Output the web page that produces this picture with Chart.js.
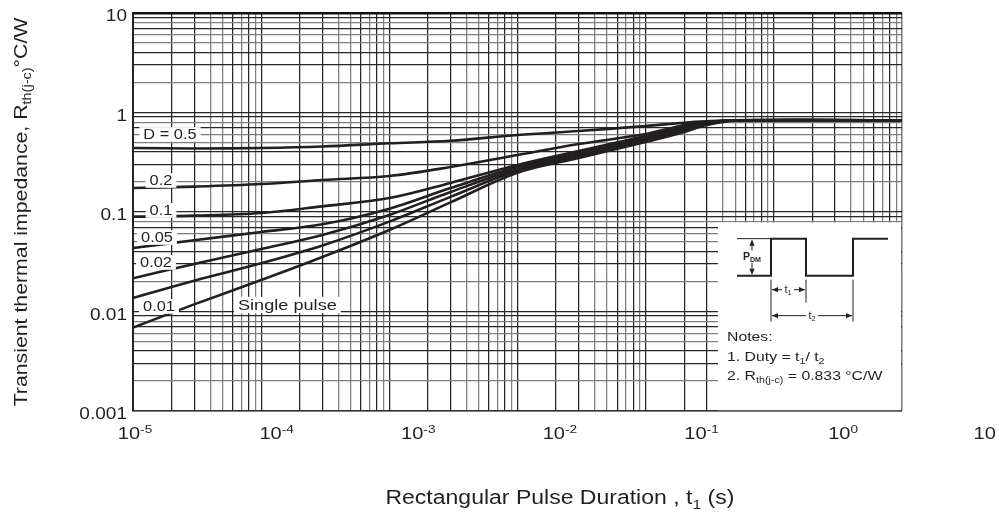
<!DOCTYPE html>
<html>
<head>
<meta charset="utf-8">
<script src="https://cdn.jsdelivr.net/npm/chart.js@4.4.1/dist/chart.umd.min.js"></script>
<style>
  html, body { margin: 0; padding: 0; background: #fff; }
  #wrap { width: 999px; height: 513px; }
</style>
</head>
<body>
<div id="wrap"><canvas id="c" width="999" height="513"></canvas></div>
<script>
// pulse duration t1 (s) where the curves were read
const tPulse = [1e-5, 3e-5, 1e-4, 3e-4, 1e-3, 3e-3, 1e-2, 3e-2, 0.1, 0.2, 0.3, 0.5, 10];
// transient thermal impedance (°C/W) per duty cycle
const zD05    = [0.44, 0.435, 0.44, 0.455, 0.49, 0.52, 0.594, 0.652, 0.731, 0.79, 0.815, 0.833, 0.833];
const zD02    = [0.174, 0.18, 0.191, 0.21, 0.23, 0.283, 0.374, 0.482, 0.608, 0.749, 0.80, 0.833, 0.833];
const zD01    = [0.0898, 0.092, 0.0977, 0.114, 0.138, 0.196, 0.297, 0.41, 0.581, 0.715, 0.79, 0.833, 0.833];
const zD005   = [0.0435, 0.052, 0.063, 0.0752, 0.108, 0.174, 0.283, 0.392, 0.561, 0.69, 0.78, 0.833, 0.833];
const zD002   = [0.0216, 0.030, 0.0425, 0.0588, 0.0935, 0.159, 0.270, 0.374, 0.542, 0.667, 0.77, 0.833, 0.833];
const zD001   = [0.0137, 0.0204, 0.0305, 0.046, 0.080, 0.142, 0.261, 0.366, 0.529, 0.65, 0.76, 0.833, 0.833];
const zSingle = [0.0069, 0.0118, 0.0207, 0.0353, 0.066, 0.125, 0.248, 0.349, 0.505, 0.637, 0.75, 0.828, 0.833];
const seriesNames = ['D = 0.5', '0.2', '0.1', '0.05', '0.02', '0.01', 'Single pulse'];

// axes
const xDecades = [1e-5, 1e-4, 1e-3, 1e-2, 1e-1, 1];
const yDecades = [0.001, 0.01, 0.1, 1];
const mantissas = [1, 2, 3, 4, 5, 6, 7, 8, 9];
const xTickExp = ['-5', '-4', '-3', '-2', '-1', '0', ''];
const yTickValues = [10, 1, 0.1, 0.01, 0.001];
const yTickLabels = ['10', '1', '0.1', '0.01', '0.001'];

const INK = '#231f20';
const FONT = '"Liberation Sans", Arial, Helvetica, sans-serif';
const STRETCH = 1.17; // the scanned lettering is wider than Arial

function gridTicks(decades, top) {
  const out = [];
  decades.forEach(d => mantissas.forEach(m => out.push({ value: m * d })));
  out.push({ value: top });
  return out;
}
function mant(v) {
  return Math.round(v / Math.pow(10, Math.floor(Math.log10(v) + 1e-9)));
}

// text with sub/superscripts: parts = [[text, 'n'|'sub'|'sup'], ...]
function richWidth(ctx, parts, size, bold) {
  let w = 0;
  parts.forEach(([t, k]) => {
    ctx.font = (bold ? 'bold ' : '') + (k === 'n' ? size : size * 0.68) + 'px ' + FONT;
    w += ctx.measureText(t).width;
  });
  return w;
}
function drawRich(ctx, parts, x, y, size, align, stretch, bold) {
  stretch = stretch || STRETCH;
  const w = richWidth(ctx, parts, size, bold) * stretch;
  const x0 = align === 'center' ? x - w / 2 : align === 'right' ? x - w : x;
  ctx.save();
  ctx.translate(x0, y);
  ctx.scale(stretch, 1);
  ctx.textAlign = 'left';
  ctx.textBaseline = 'alphabetic';
  ctx.fillStyle = INK;
  let cx = 0;
  parts.forEach(([t, k]) => {
    const s = k === 'n' ? size : size * 0.68;
    ctx.font = (bold ? 'bold ' : '') + s + 'px ' + FONT;
    const dy = k === 'sub' ? size * 0.24 : k === 'sup' ? -size * 0.36 : 0;
    ctx.fillText(t, cx, dy);
    cx += ctx.measureText(t).width;
  });
  ctx.restore();
  return w;
}
function labelBox(ctx, parts, x, y, size, align) {
  const w = richWidth(ctx, parts, size) * STRETCH;
  const x0 = align === 'center' ? x - w / 2 : x;
  ctx.fillStyle = '#fff';
  ctx.fillRect(x0 - 4, y - size * 0.85, w + 8, size * 1.05);
  drawRich(ctx, parts, x, y, size, align);
}
function arrowHead(ctx, x, y, dir) {
  const L = 6, H = 2.6;
  ctx.beginPath();
  if (dir === 'l') { ctx.moveTo(x, y); ctx.lineTo(x + L, y - H); ctx.lineTo(x + L, y + H); }
  if (dir === 'r') { ctx.moveTo(x, y); ctx.lineTo(x - L, y - H); ctx.lineTo(x - L, y + H); }
  if (dir === 'u') { ctx.moveTo(x, y); ctx.lineTo(x - H, y + L); ctx.lineTo(x + H, y + L); }
  if (dir === 'd') { ctx.moveTo(x, y); ctx.lineTo(x - H, y - L); ctx.lineTo(x + H, y - L); }
  ctx.closePath();
  ctx.fill();
}

const annotate = {
  id: 'annotate',
  afterDraw(chart) {
    const ctx = chart.ctx;
    const a = chart.chartArea;
    const xs = chart.scales.x, ys = chart.scales.y;

    // inset with the pulse diagram and notes
    const bx = a.left + 585, by = ys.getPixelForValue(0.08);
    ctx.save();
    ctx.fillStyle = '#fff';
    ctx.fillRect(bx, by + 0.8, a.right - bx - 1, a.bottom - by - 1.6);
    ctx.strokeStyle = INK; ctx.fillStyle = INK;
    ctx.lineWidth = 2;
    ctx.beginPath();
    ctx.moveTo(bx + 19, by + 54); ctx.lineTo(bx + 53, by + 54); ctx.lineTo(bx + 53, by + 17);
    ctx.lineTo(bx + 88, by + 17); ctx.lineTo(bx + 88, by + 54); ctx.lineTo(bx + 135, by + 54);
    ctx.lineTo(bx + 135, by + 17); ctx.lineTo(bx + 170, by + 17);
    ctx.stroke();
    ctx.lineWidth = 1;
    ctx.beginPath();
    ctx.moveTo(bx + 19, by + 17); ctx.lineTo(bx + 53, by + 17);
    ctx.moveTo(bx + 34, by + 19); ctx.lineTo(bx + 34, by + 52);
    ctx.moveTo(bx + 53, by + 58); ctx.lineTo(bx + 53, by + 100);
    ctx.moveTo(bx + 88, by + 58); ctx.lineTo(bx + 88, by + 81);
    ctx.moveTo(bx + 135, by + 58); ctx.lineTo(bx + 135, by + 100);
    ctx.moveTo(bx + 54, by + 68); ctx.lineTo(bx + 87, by + 68);
    ctx.moveTo(bx + 54, by + 94); ctx.lineTo(bx + 134, by + 94);
    ctx.stroke();
    arrowHead(ctx, bx + 34, by + 18, 'u');
    arrowHead(ctx, bx + 34, by + 53, 'd');
    arrowHead(ctx, bx + 54, by + 68, 'l');
    arrowHead(ctx, bx + 87, by + 68, 'r');
    arrowHead(ctx, bx + 54, by + 94, 'l');
    arrowHead(ctx, bx + 134, by + 94, 'r');
    ctx.fillStyle = '#fff';
    ctx.fillRect(bx + 23, by + 29, 23, 12);
    ctx.fillRect(bx + 64, by + 63, 12, 10);
    ctx.fillRect(bx + 88, by + 89, 12, 10);
    ctx.restore();
    drawRich(ctx, [['P', 'n'], ['DM', 'sub']], bx + 34, by + 38, 10, 'center', 1.05, true);
    drawRich(ctx, [['t', 'n'], ['1', 'sub']], bx + 70, by + 71, 10, 'center', 1.1);
    drawRich(ctx, [['t', 'n'], ['2', 'sub']], bx + 94, by + 97, 10, 'center', 1.1);
    drawRich(ctx, [['Notes:', 'n']], bx + 9, by + 119, 13.5, 'left');
    drawRich(ctx, [['1. Duty = t', 'n'], ['1', 'sub'], ['/ t', 'n'], ['2', 'sub']], bx + 9, by + 139, 13.5, 'left');
    drawRich(ctx, [['2. R', 'n'], ['th(j-c)', 'sub'], [' = 0.833 \u00B0C/W', 'n']], bx + 9, by + 158, 13.5, 'left');

    // curve labels
    const L = a.left, T = a.top;
    labelBox(ctx, [[seriesNames[0], 'n']], L + 37, T + 126, 14, 'center');
    labelBox(ctx, [[seriesNames[1], 'n']], L + 28, T + 172, 14, 'center');
    labelBox(ctx, [[seriesNames[2], 'n']], L + 28, T + 202, 14, 'center');
    labelBox(ctx, [[seriesNames[3], 'n']], L + 24, T + 229, 14, 'center');
    labelBox(ctx, [[seriesNames[4], 'n']], L + 23, T + 254, 14, 'center');
    labelBox(ctx, [[seriesNames[5], 'n']], L + 26, T + 298, 14, 'center');
    labelBox(ctx, [[seriesNames[6], 'n']], L + 105, T + 297, 15.5, 'left');

    // y tick labels
    yTickValues.forEach((v, i) => {
      drawRich(ctx, [[yTickLabels[i], 'n']], a.left - 6, ys.getPixelForValue(v) + 8, 17, 'right', 1.12);
    });
    // x tick labels: in the source they run on a wider spacing than the grid decades
    const dec = (xs.getPixelForValue(10) - xs.getPixelForValue(1e-5)) / 6;
    const step = dec * 1.105;
    xTickExp.forEach((e, i) => {
      const px = xs.getPixelForValue(1e-5) + 2 + step * i;
      const parts = e ? [['10', 'n'], [e, 'sup']] : [['10', 'n']];
      drawRich(ctx, parts, px, a.bottom + 28, 17, 'center', 1.18);
    });

    // axis titles
    drawRich(ctx, [['Rectangular Pulse Duration , t', 'n'], ['1', 'sub'], [' (s)', 'n']],
      xs.getPixelForValue(1e-5) + 2 + step * 3, a.bottom + 93, 19.5, 'center', 1.18);
    ctx.save();
    ctx.translate(27, (a.top + a.bottom) / 2);
    ctx.rotate(-Math.PI / 2);
    drawRich(ctx, [['Transient thermal impedance, R', 'n'], ['th(j-c)', 'sub'], ['\u00B0C/W', 'n']], 0, 0, 18.5, 'center', 1.15);
    ctx.restore();
  }
};

const curves = [zD05, zD02, zD01, zD005, zD002, zD001, zSingle];
const datasets = curves.map((arr, i) => ({
  label: seriesNames[i],
  data: tPulse.map((t, j) => ({ x: t, y: arr[j] })),
  borderColor: INK,
  borderWidth: 2.6,
  pointRadius: 0,
  fill: false,
  tension: 0.35
}));

const DARK = '#262626', GRAY = '#7e7e7e';
const xDark = [1, 2, 3, 6, 8];
const yDark = [1, 3, 4, 7, 9];

new Chart(document.getElementById('c').getContext('2d'), {
  type: 'line',
  data: { datasets },
  options: {
    responsive: false,
    animation: false,
    layout: { padding: { left: 133, right: 97, top: 13, bottom: 102 } },
    plugins: { legend: { display: false }, tooltip: { enabled: false } },
    scales: {
      x: {
        type: 'logarithmic',
        min: 1e-5,
        max: 10,
        afterBuildTicks: s => { s.ticks = gridTicks(xDecades, 10); },
        ticks: { display: false, autoSkip: false },
        grid: {
          drawTicks: false,
          color: c => (c.tick && c.tick.value >= 10) ? GRAY : (xDark.includes(mant(c.tick.value)) ? DARK : GRAY),
          lineWidth: c => (c.tick && c.tick.value >= 10) ? 1.6 : 1.25
        },
        border: { color: '#333', width: 1.6 }
      },
      y: {
        type: 'logarithmic',
        min: 0.001,
        max: 10,
        afterBuildTicks: s => { s.ticks = gridTicks(yDecades, 10); },
        ticks: { display: false, autoSkip: false },
        grid: {
          drawTicks: false,
          color: c => (c.tick && c.tick.value >= 10) ? '#111' : (yDark.includes(mant(c.tick.value)) ? DARK : GRAY),
          lineWidth: c => (c.tick && c.tick.value >= 10) ? 2.6 : 1.25
        },
        border: { color: '#222', width: 2 }
      }
    }
  },
  plugins: [annotate]
});
</script>
</body>
</html>
